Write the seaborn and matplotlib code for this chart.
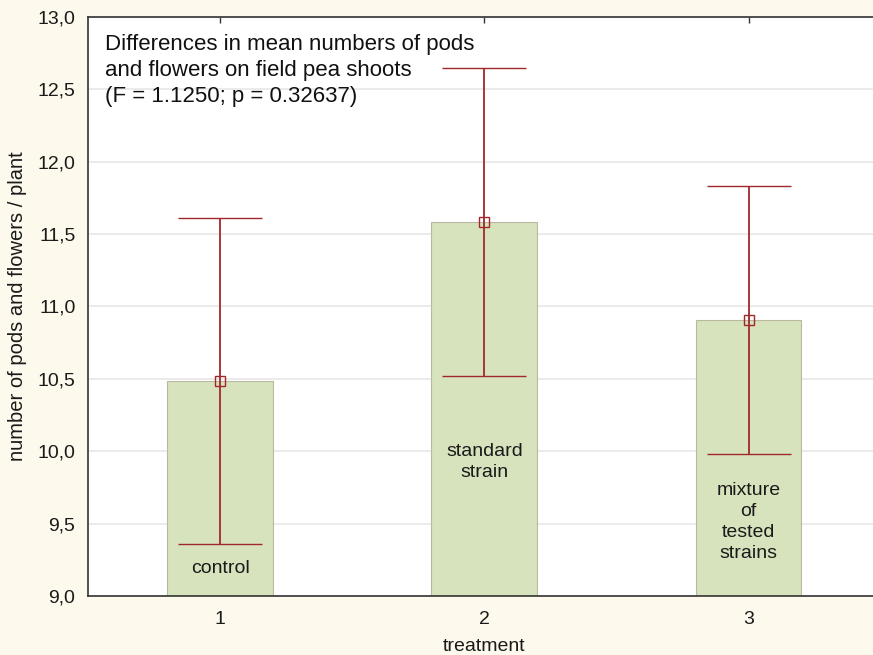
import matplotlib
matplotlib.use("Agg")
import matplotlib.pyplot as plt
from matplotlib.ticker import FuncFormatter, MultipleLocator
import seaborn as sns
import pandas as pd

# Treatment groups and their mean pod/flower counts with confidence half-widths
treatments = ["1", "2", "3"]
group_names = ["control", "standard\nstrain", "mixture\nof\ntested\nstrains"]
means = [10.485, 11.585, 10.908]
half_ci = [1.125, 1.063, 0.925]

sns.set_theme(style="white")
plt.rcParams["font.family"] = ["Liberation Sans", "DejaVu Sans"]

df = pd.DataFrame({"treatment": treatments, "mean": means})

fig = plt.figure(figsize=(8.73, 6.55), dpi=100)
fig.patch.set_facecolor("#FDF9EC")
ax = fig.add_axes([0.1008, 0.0901, 0.908, 0.8840])
ax.set_facecolor("white")

sns.barplot(data=df, x="treatment", y="mean", ax=ax, width=0.4,
            color="#D7E3BD", saturation=1, edgecolor="#B9B9A0", linewidth=0.8,
            errorbar=None, zorder=2)

xs = list(range(len(treatments)))
ax.errorbar(xs, means, yerr=half_ci, fmt="s", mfc="none", mec="#A0282A",
            ms=7, mew=1.0, ecolor="#A0282A", elinewidth=1.3, capsize=30,
            capthick=1.3, zorder=4)

# Group names written inside the bars
label_y = [9.193, 9.926, 9.511]
for x, name, y in zip(xs, group_names, label_y):
    ax.text(x, y, name, ha="center", va="center", fontsize=14,
            color="#1a1a1a", linespacing=1.3, zorder=5)

ax.set_ylim(9.0, 13.0)
ax.set_xlim(-0.5, 2.5)
ax.yaxis.set_major_locator(MultipleLocator(0.5))
ax.yaxis.set_major_formatter(FuncFormatter(lambda v, p: f"{v:.1f}".replace(".", ",")))
ax.grid(axis="y", color="#E8E8E8", linewidth=1.2, zorder=0)
ax.set_axisbelow(True)

for side in ["left", "bottom", "top"]:
    ax.spines[side].set_visible(True)
    ax.spines[side].set_color("#333333")
    ax.spines[side].set_linewidth(1.2)
ax.spines["right"].set_visible(False)

ax.tick_params(axis="both", direction="in", length=4, width=1, color="#333333",
               labelsize=14, labelcolor="#1a1a1a", pad=9)
ax.tick_params(axis="x", top=True, pad=11)

ax.set_xlabel("treatment", fontsize=14, color="#1a1a1a", labelpad=7)
ax.set_ylabel("number of pods and flowers / plant", fontsize=14.5,
              color="#1a1a1a", labelpad=8)

ax.text(0.022, 0.97,
        "Differences in mean numbers of pods\nand flowers on field pea shoots\n(F = 1.1250; p = 0.32637)",
        transform=ax.transAxes, ha="left", va="top", fontsize=16,
        color="#111111", linespacing=1.3)

fig.savefig("out.png", dpi=100, facecolor=fig.get_facecolor())
